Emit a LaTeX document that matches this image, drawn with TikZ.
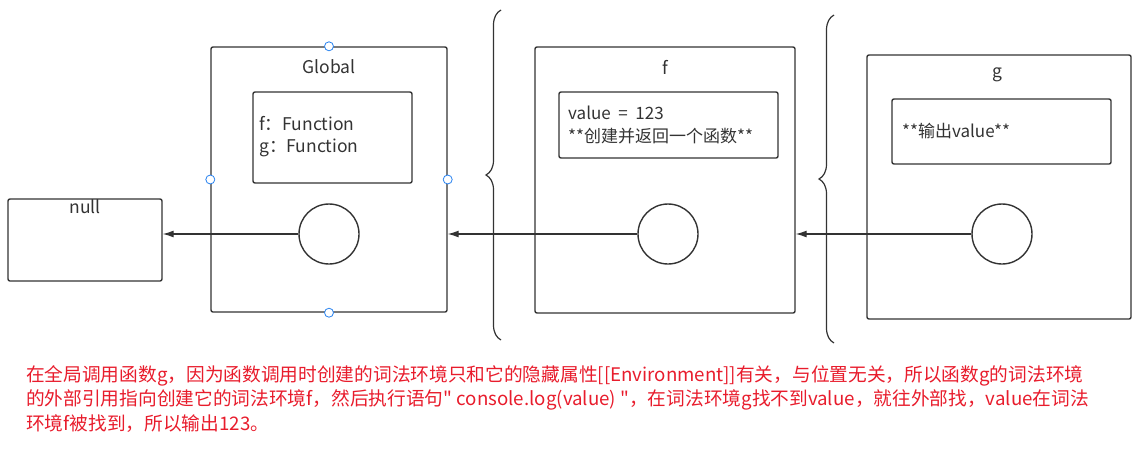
\documentclass[tikz,border=0pt]{standalone}
\usepackage{fontspec}
\setmainfont{Noto Sans CJK SC}[Ligatures=TeXOff]
\usetikzlibrary{arrows.meta,decorations.pathreplacing}
\definecolor{ink}{RGB}{51,51,51}
\definecolor{notered}{RGB}{232,28,44}
\definecolor{handleblue}{RGB}{40,130,240}
\begin{document}
\begin{tikzpicture}[x=1pt,y=-1pt,
  envbox/.style={draw=ink,line width=1.4pt,rounded corners=2pt},
  varbox/.style={draw=ink,line width=1.4pt,rounded corners=2pt},
  ref/.style={draw=ink,line width=1.4pt,circle,minimum size=60pt,inner sep=0pt},
  handle/.style={draw=handleblue,fill=white,line width=0.8pt,circle,minimum size=9pt,inner sep=0pt},
  lbl/.style={text=ink,font=\fontsize{17.5}{20}\selectfont,inner sep=0pt},
  ptr/.style={draw=ink,line width=1.2pt,-{Latex[length=11pt,width=7pt]}},
  scopebrace/.style={draw=ink,line width=1.2pt,decorate,decoration={brace,amplitude=15pt}},
  note/.style={text=notered,font=\fontsize{18.7}{24}\selectfont,anchor=west,inner sep=0pt}]
\useasboundingbox (0,0) rectangle (1143,459);
% null
\node[envbox,minimum width=154pt,minimum height=82pt] (null) at (85,240) {};
\node[lbl] (nulltxt) at (85,207) {null};
% Global
\node[envbox,minimum width=236pt,minimum height=265pt] (global) at (329,179.5) {};
\node[lbl] (globaltxt) at (329,67) {Global};
\node[varbox,minimum width=159pt,minimum height=91pt] (globalvars) at (332.5,137.5) {};
\node[lbl,anchor=west,align=left,font=\fontsize{17.5}{22}\selectfont] (globalvarstxt) at (259,137) {f：Function\\g：Function};
\node[ref] (globalref) at (329,234) {};
\foreach \side in {north,south,east,west}
  \node[handle] (h\side) at (global.\side) {};
% f
\node[envbox,minimum width=260pt,minimum height=266pt] (f) at (665,180) {};
\node[lbl] (ftxt) at (665,67) {f};
\node[varbox,minimum width=219pt,minimum height=66pt] (fvars) at (668.5,125) {};
\node[lbl,anchor=west,align=left,font=\fontsize{17}{23}\selectfont] (fvarstxt) at (568,125) {value\ \ =\ \ 123\\**创建并返回一个函数**};
\node[ref] (fref) at (668,234) {};
% g
\node[envbox,minimum width=264pt,minimum height=264pt] (g) at (999,187) {};
\node[lbl] (gtxt) at (997,75) {g};
\node[varbox,minimum width=219pt,minimum height=65pt] (gvars) at (1001.5,131.5) {};
\node[lbl,anchor=west,font=\fontsize{17}{20}\selectfont] (gvarstxt) at (902,131) {**输出value**};
\node[ref] (gref) at (1002,234) {};
% outer references
\draw[ptr] (globalref.west) -- (globalref.west -| null.east);
\draw[ptr] (fref.west) -- (fref.west -| global.east);
\draw[ptr] (gref.west) -- (gref.west -| f.east);
% braces
\draw[scopebrace] (501,340) -- (501,10);
\draw[scopebrace] (834,343) -- (834,15);
% explanation
\node[note] (line1) at (26,376) {在全局调用函数g，因为函数调用时创建的词法环境只和它的隐藏属性[[Environment]]有关，与位置无关，所以函数g的词法环境};
\node[note] (line2) at (26,400) {的外部引用指向创建它的词法环境f，然后执行语句"\ console.log(value)\ "，在词法环境g找不到value，就往外部找，value在词法};
\node[note] (line3) at (26,424) {环境f被找到，所以输出123。};
\end{tikzpicture}
\end{document}
